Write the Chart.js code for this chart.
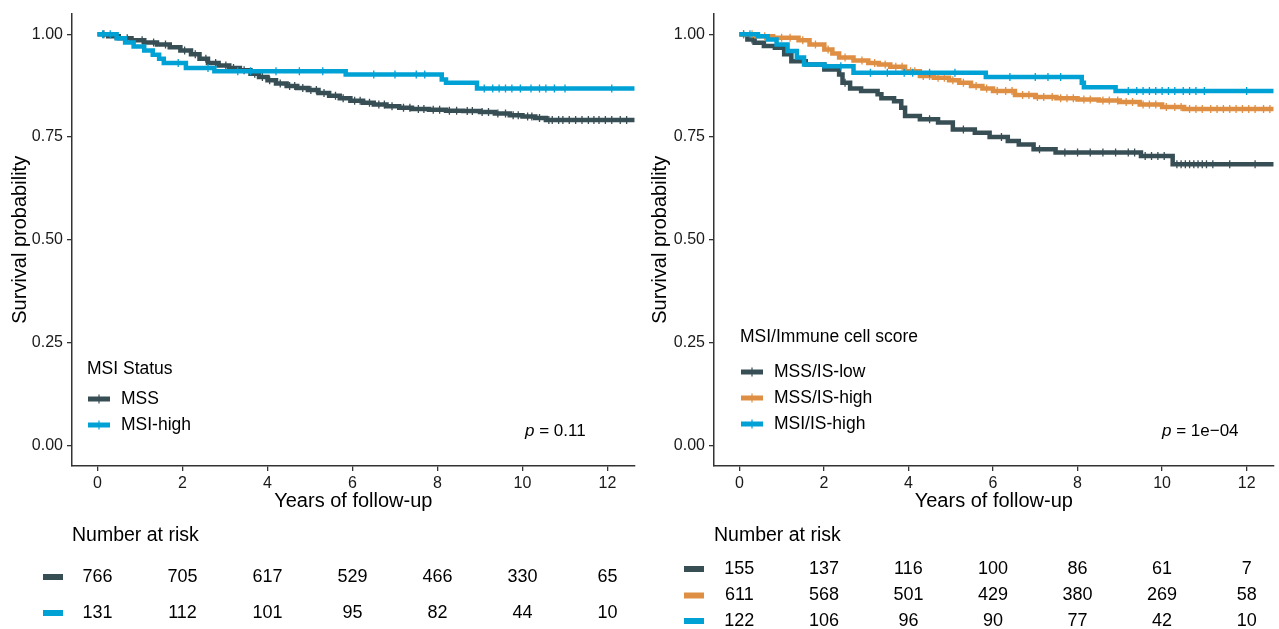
<!DOCTYPE html>
<html lang="en">
<head>
<meta charset="UTF-8">
<title>Survival by MSI status and immune cell score</title>
<script src="https://cdn.jsdelivr.net/npm/chart.js"></script>
<style>
  body { margin: 0; background: #fff; }
  #wrap { position: relative; width: 1279px; height: 629px; overflow: hidden; }
  canvas { position: absolute; top: 0; }
  #left { left: 0; }
  #right { left: 640px; }
</style>
</head>
<body>
<div id="wrap">
  <canvas id="left" width="640" height="629"></canvas>
  <canvas id="right" width="639" height="629"></canvas>
</div>
<script>
const FONT = "'Liberation Sans', Arial, sans-serif";
const DARK = '#374E55', ORANGE = '#DF8F44', BLUE = '#00A1D5';

const xTicks = [0, 2, 4, 6, 8, 10, 12];
const yTicks = [0, 0.25, 0.5, 0.75, 1];
const riskTimes = [0, 2, 4, 6, 8, 10, 12];

// left panel: MSI status
const mssTime = [0, 0.25, 0.5, 0.8, 1.1, 1.4, 1.7, 1.95, 2.2, 2.4, 2.6, 2.85, 3.1, 3.35, 3.6, 3.8, 4.0, 4.2, 4.45, 4.7, 4.95, 5.2, 5.45, 5.7, 5.95, 6.25, 6.5, 6.8, 7.1, 7.4, 7.8, 8.2, 8.6, 9.0, 9.35, 9.7, 10.0, 10.3, 10.55, 12.64];
const mssSurv = [1, 0.995, 0.99, 0.985, 0.98, 0.975, 0.968, 0.96, 0.951, 0.94, 0.93, 0.924, 0.918, 0.912, 0.904, 0.896, 0.888, 0.88, 0.874, 0.869, 0.864, 0.857, 0.85, 0.844, 0.838, 0.833, 0.829, 0.825, 0.821, 0.818, 0.816, 0.814, 0.813, 0.811, 0.807, 0.803, 0.8, 0.796, 0.791, 0.791];
const mssCens = [0.15, 0.42, 0.7, 1.05, 1.32, 1.6, 2.05, 2.3, 2.55, 2.78, 3.02, 3.2, 3.45, 3.7, 3.88, 4.05, 4.3, 4.52, 4.64, 4.83, 5.02, 5.15, 5.33, 5.6, 5.78, 6.05, 6.18, 6.4, 6.62, 6.75, 6.93, 7.2, 7.35, 7.55, 7.68, 7.9, 8.05, 8.28, 8.45, 8.7, 8.82, 9.05, 9.2, 9.42, 9.6, 9.78, 9.9, 10.12, 10.22, 10.4, 10.62, 10.7, 10.85, 10.95, 11.1, 11.25, 11.4, 11.55, 11.68, 11.8, 11.95, 12.1, 12.3, 12.45];
const msiTime = [0, 0.45, 0.65, 0.85, 1.1, 1.3, 1.45, 1.56, 2.08, 2.75, 5.84, 8.1, 8.2, 8.93, 12.64];
const msiSurv = [1, 0.99, 0.98, 0.97, 0.96, 0.95, 0.94, 0.93, 0.918, 0.91, 0.902, 0.89, 0.882, 0.868, 0.868];
const msiCens = [0.12, 0.3, 1.9, 2.6, 3.3, 3.6, 4.2, 4.75, 5.3, 6.5, 7.0, 7.5, 7.7, 9.1, 9.3, 9.45, 9.6, 9.75, 9.95, 10.2, 10.4, 10.55, 10.75, 11.0, 12.1];
const riskMss = [766, 705, 617, 529, 466, 330, 65];
const riskMsi = [131, 112, 101, 95, 82, 44, 10];

// right panel: MSI / immune cell score
const lowTime = [0, 0.19, 0.36, 0.58, 0.84, 1.06, 1.23, 1.57, 2.01, 2.36, 2.44, 2.62, 2.88, 3.27, 3.36, 3.66, 3.83, 3.92, 4.27, 4.7, 5.05, 5.57, 5.92, 6.35, 6.61, 6.96, 7.48, 9.5, 10.25, 12.64];
const lowSurv = [1, 0.987, 0.979, 0.971, 0.967, 0.951, 0.934, 0.926, 0.914, 0.902, 0.882, 0.868, 0.862, 0.854, 0.844, 0.837, 0.821, 0.801, 0.793, 0.785, 0.768, 0.76, 0.75, 0.74, 0.732, 0.72, 0.712, 0.704, 0.684, 0.684];
const lowCens = [0.3, 2.5, 4.5, 5.3, 6.2, 7.1, 7.7, 8.0, 8.3, 8.6, 8.9, 9.2, 9.35, 9.6, 9.75, 9.9, 10.05, 10.35, 10.45, 10.55, 10.65, 10.75, 10.85, 10.95, 11.05, 11.2, 11.6, 12.2];
const highTime = [0, 0.4, 0.8, 1.4, 1.66, 2.01, 2.2, 2.36, 2.7, 3.05, 3.3, 3.57, 3.92, 4.27, 4.6, 4.96, 5.2, 5.48, 5.75, 6.0, 6.52, 7.0, 7.5, 8.0, 8.5, 9.0, 9.47, 10.0, 10.52, 12.64];
const highSurv = [1, 0.995, 0.991, 0.985, 0.975, 0.963, 0.953, 0.943, 0.936, 0.93, 0.926, 0.921, 0.91, 0.898, 0.894, 0.888, 0.882, 0.874, 0.868, 0.862, 0.852, 0.847, 0.844, 0.841, 0.839, 0.835, 0.829, 0.823, 0.818, 0.818];
const highCens = [0.1, 0.3, 0.6, 1.0, 1.2, 1.5, 1.8, 2.1, 2.5, 2.9, 3.2, 3.45, 3.7, 3.85, 4.05, 4.15, 4.35, 4.5, 4.7, 4.85, 5.05, 5.3, 5.6, 5.85, 6.1, 6.3, 6.45, 6.7, 6.85, 7.05, 7.2, 7.4, 7.6, 7.75, 7.9, 8.15, 8.3, 8.6, 8.75, 8.95, 9.15, 9.3, 9.55, 9.7, 9.85, 10.1, 10.3, 10.45, 10.65, 10.8, 10.95, 11.15, 11.3, 11.45, 11.6, 11.75, 11.9, 12.05, 12.2, 12.4, 12.55];
const msihTime = [0, 0.44, 0.67, 0.88, 1.14, 1.36, 1.53, 2.01, 2.7, 5.83, 8.1, 8.15, 8.9, 12.64];
const msihSurv = [1, 0.995, 0.987, 0.975, 0.959, 0.943, 0.926, 0.922, 0.906, 0.896, 0.882, 0.871, 0.862, 0.862];
const msihCens = [0.1, 0.25, 2.4, 3.1, 3.5, 3.9, 4.1, 4.5, 5.1, 6.4, 7.0, 7.3, 7.6, 9.2, 9.4, 9.55, 9.7, 9.85, 10.0, 10.15, 10.3, 10.5, 10.65, 10.8, 11.0, 12.0];
const riskLow = [155, 137, 116, 100, 86, 61, 7];
const riskHigh = [611, 568, 501, 429, 380, 269, 58];
const riskMsih = [122, 106, 96, 90, 77, 42, 10];

// survival value of a step curve at time t
function stepAt(times, surv, t) {
    let v = surv[0];
    for (let i = 0; i < times.length; i++) {
        if (times[i] <= t) v = surv[i]; else break;
    }
    return v;
}

function curve(times, surv, color, order) {
    return {
        type: 'line',
        data: times.map((t, i) => ({ x: t, y: surv[i] })),
        borderColor: color,
        borderWidth: 4.5,
        stepped: 'before',
        pointRadius: 0,
        fill: false,
        order: order
    };
}

function marks(times, surv, cens, color, order) {
    return {
        type: 'scatter',
        data: cens.map(t => ({ x: t, y: stepAt(times, surv, t) })),
        pointStyle: 'line',
        rotation: 90,
        pointRadius: 4,
        borderWidth: 1.3,
        pointBorderWidth: 1.3,
        borderColor: color,
        pointBorderColor: color,
        backgroundColor: color,
        order: order
    };
}

// legend, p value and number-at-risk table
const overlay = {
    id: 'overlay',
    afterDraw(chart, args, o) {
        const ctx = chart.ctx;
        const xs = chart.scales.x;
        ctx.save();
        ctx.textBaseline = 'middle';
        ctx.textAlign = 'left';
        ctx.fillStyle = '#000';
        ctx.font = '17.5px ' + FONT;
        ctx.fillText(o.title, o.legendX, o.legendY[0]);
        o.groups.forEach((g, i) => {
            const y = o.legendY[i + 1];
            ctx.fillStyle = g.color;
            ctx.fillRect(o.swatchX, y - 2.5, 22, 5);
            ctx.strokeStyle = g.color;
            ctx.lineWidth = 1.2;
            ctx.beginPath();
            ctx.moveTo(o.swatchX + 11, y - 4.5);
            ctx.lineTo(o.swatchX + 11, y + 4.5);
            ctx.stroke();
            ctx.fillStyle = '#000';
            ctx.fillText(g.name, o.swatchX + 33, y);
        });

        // p value
        ctx.font = 'italic 17px ' + FONT;
        ctx.fillText('p', o.pX, 431);
        const pw = ctx.measureText('p').width;
        ctx.font = '17px ' + FONT;
        ctx.fillText(' = ' + o.pText, o.pX + pw, 431);

        // risk table
        ctx.font = '19.5px ' + FONT;
        ctx.fillText('Number at risk', xs.left, 536);
        ctx.font = '18px ' + FONT;
        ctx.textAlign = 'center';
        o.groups.forEach((g, i) => {
            const y = o.rowY[i];
            ctx.fillStyle = g.color;
            ctx.fillRect(o.tableSwatchX, y - 3, 20, 6);
            ctx.fillStyle = '#000';
            g.risk.forEach((n, j) => {
                ctx.fillText(String(n), xs.getPixelForValue(riskTimes[j]), y);
            });
        });
        ctx.restore();
    }
};

function makeOptions(yWidth, padRight, overlayOpts) {
    return {
        responsive: false,
        animation: false,
        events: [],
        layout: { padding: { left: 0, top: 12, right: padRight, bottom: 116 } },
        plugins: {
            legend: { display: false },
            tooltip: { enabled: false },
            overlay: overlayOpts
        },
        scales: {
            x: {
                type: 'linear',
                min: -0.6,
                max: 12.64,
                afterBuildTicks: s => { s.ticks = xTicks.map(v => ({ value: v })); },
                afterFit: s => { s.height = 47; },
                grid: { drawOnChartArea: false, drawTicks: true, tickLength: 5, color: '#333', lineWidth: 1.3 },
                border: { display: true, color: '#333', width: 1.5 },
                ticks: { font: { family: FONT, size: 16 }, color: '#1a1a1a', padding: 3, maxRotation: 0, autoSkip: false },
                title: { display: true, text: 'Years of follow-up', font: { family: FONT, size: 20 }, color: '#000', padding: { top: 0, bottom: 0 } }
            },
            y: {
                min: -0.05,
                max: 1.05,
                afterBuildTicks: s => { s.ticks = yTicks.map(v => ({ value: v })); },
                afterFit: s => { s.width = yWidth; },
                grid: { drawOnChartArea: false, drawTicks: true, tickLength: 5, color: '#333', lineWidth: 1.3 },
                border: { display: true, color: '#333', width: 1.5 },
                ticks: { font: { family: FONT, size: 16 }, color: '#1a1a1a', padding: 4, callback: v => v.toFixed(2) },
                title: { display: true, text: 'Survival probability', font: { family: FONT, size: 20 }, color: '#000', padding: { top: 8, bottom: 0 } }
            }
        }
    };
}

new Chart(document.getElementById('left'), {
    type: 'line',
    data: {
        datasets: [
            marks(msiTime, msiSurv, msiCens, BLUE, 0),
            curve(msiTime, msiSurv, BLUE, 1),
            marks(mssTime, mssSurv, mssCens, DARK, 2),
            curve(mssTime, mssSurv, DARK, 3)
        ]
    },
    options: makeOptions(72, 3, {
        title: 'MSI Status',
        legendX: 87, legendY: [369, 399, 425], swatchX: 88,
        pX: 525, pText: '0.11',
        tableSwatchX: 43, rowY: [577, 613],
        groups: [
            { name: 'MSS', color: DARK, risk: riskMss },
            { name: 'MSI-high', color: BLUE, risk: riskMsi }
        ]
    }),
    plugins: [overlay]
});

new Chart(document.getElementById('right'), {
    type: 'line',
    data: {
        datasets: [
            marks(msihTime, msihSurv, msihCens, BLUE, 0),
            curve(msihTime, msihSurv, BLUE, 1),
            marks(highTime, highSurv, highCens, ORANGE, 2),
            curve(highTime, highSurv, ORANGE, 3),
            marks(lowTime, lowSurv, lowCens, DARK, 4),
            curve(lowTime, lowSurv, DARK, 5)
        ]
    },
    options: makeOptions(74, 0, {
        title: 'MSI/Immune cell score',
        legendX: 100, legendY: [337, 372, 398, 424], swatchX: 101,
        pX: 522, pText: '1e\u221204',
        tableSwatchX: 44, rowY: [569, 595.5, 621],
        groups: [
            { name: 'MSS/IS-low', color: DARK, risk: riskLow },
            { name: 'MSS/IS-high', color: ORANGE, risk: riskHigh },
            { name: 'MSI/IS-high', color: BLUE, risk: riskMsih }
        ]
    }),
    plugins: [overlay]
});
</script>
</body>
</html>
